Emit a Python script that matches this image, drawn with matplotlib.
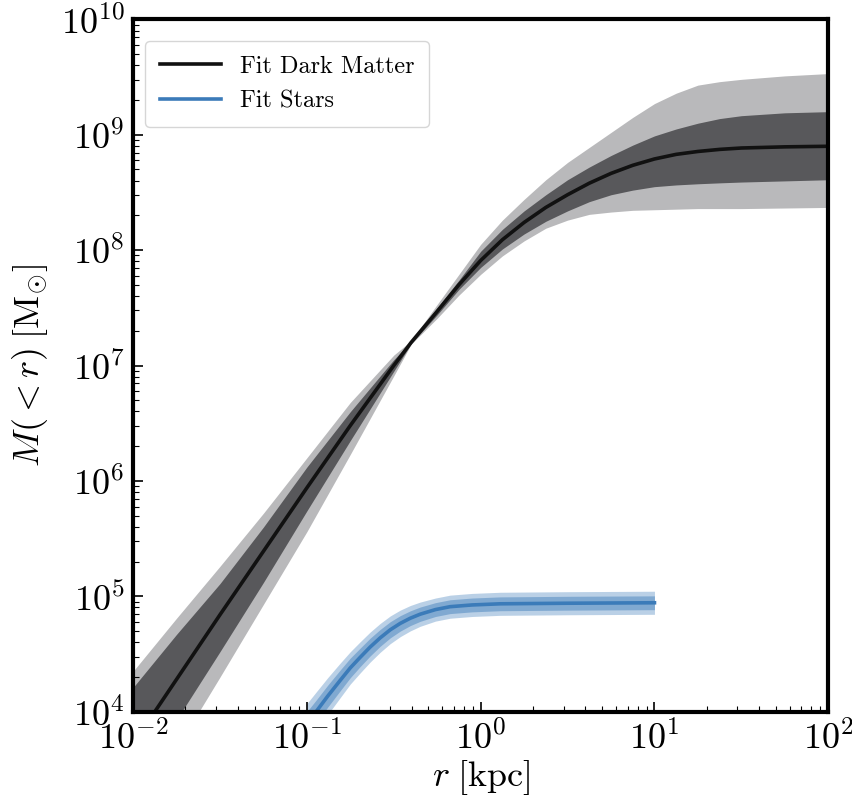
import matplotlib
matplotlib.use("Agg")
import matplotlib.pyplot as plt
import numpy as np

plt.rcParams['font.family'] = ['cmr10', 'DejaVu Serif']
plt.rcParams['mathtext.fontset'] = 'cm'
plt.rcParams['axes.formatter.use_mathtext'] = True

# dark matter enclosed mass (log10 values)
dm_logr = np.array([-2.0, -1.75, -1.5, -1.25, -1.0, -0.75, -0.5, -0.4, -0.25,
                    -0.125, 0.0, 0.125, 0.25, 0.375, 0.5, 0.625, 0.75, 0.875,
                    1.0, 1.125, 1.25, 1.375, 1.5, 1.75, 2.0])
dm_med = np.array([3.72, 4.28, 4.84, 5.39, 5.94, 6.48, 7.00, 7.20, 7.47,
                   7.70, 7.91, 8.09, 8.24, 8.37, 8.48, 8.58, 8.665, 8.735,
                   8.79, 8.83, 8.855, 8.873, 8.885, 8.895, 8.90])
dm_up2 = np.array([4.35, 4.81, 5.26, 5.72, 6.20, 6.68, 7.09, 7.215, 7.53,
                   7.79, 8.05, 8.26, 8.44, 8.61, 8.76, 8.89, 9.02, 9.15,
                   9.27, 9.36, 9.43, 9.46, 9.48, 9.51, 9.53])
dm_up1 = np.array([4.21, 4.67, 5.11, 5.60, 6.12, 6.60, 7.05, 7.21, 7.50,
                   7.74, 7.99, 8.18, 8.34, 8.48, 8.61, 8.72, 8.82, 8.91,
                   8.99, 9.05, 9.10, 9.14, 9.165, 9.19, 9.20])
dm_lo1 = np.array([3.34, 3.93, 4.52, 5.12, 5.74, 6.35, 6.95, 7.19, 7.44,
                   7.66, 7.85, 8.01, 8.14, 8.25, 8.34, 8.42, 8.48, 8.52,
                   8.55, 8.565, 8.575, 8.583, 8.59, 8.60, 8.61])
dm_lo2 = np.array([3.06, 3.68, 4.30, 4.93, 5.56, 6.23, 6.91, 7.185, 7.41,
                   7.61, 7.79, 7.95, 8.08, 8.19, 8.26, 8.31, 8.33, 8.345,
                   8.35, 8.355, 8.36, 8.36, 8.36, 8.365, 8.37])

# stellar enclosed mass (log10 values)
st_logr = np.array([-1.0, -0.947, -0.88, -0.809, -0.75, -0.694, -0.636, -0.578,
                    -0.52, -0.463, -0.405, -0.348, -0.26, -0.176, -0.05, 0.112,
                    0.5, 1.0])
st_med = np.array([3.90, 4.0, 4.135, 4.27, 4.38, 4.47, 4.56, 4.64,
                   4.71, 4.765, 4.81, 4.845, 4.885, 4.91, 4.925, 4.935,
                   4.94, 4.944])
st_err1 = np.array([0.10, 0.10, 0.095, 0.09, 0.085, 0.08, 0.077, 0.073,
                    0.07, 0.067, 0.064, 0.062, 0.06, 0.06, 0.06, 0.06,
                    0.06, 0.06])
st_err2 = np.array([0.17, 0.17, 0.16, 0.15, 0.14, 0.135, 0.13, 0.125,
                    0.12, 0.115, 0.11, 0.105, 0.10, 0.10, 0.10, 0.10,
                    0.10, 0.10])

fig = plt.figure(figsize=(8.53, 8.06), dpi=100)
ax = fig.add_axes([0.156, 0.117, 0.815, 0.859])

r = 10**dm_logr
ax.fill_between(r, 10**dm_lo2, 10**dm_up2, color='#b9b9bb', lw=0)
ax.fill_between(r, 10**dm_lo1, 10**dm_up1, color='#58585b', lw=0)
ax.plot(r, 10**dm_med, color='#111111', lw=2.6, label='Fit Dark Matter')

rs = 10**st_logr
blue = '#3b7bb9'
ax.fill_between(rs, 10**(st_med - st_err2), 10**(st_med + st_err2), color=blue, alpha=0.35, lw=0)
ax.fill_between(rs, 10**(st_med - st_err1), 10**(st_med + st_err1), color=blue, alpha=0.45, lw=0)
ax.plot(rs, 10**st_med, color=blue, lw=2.6, label='Fit Stars')

ax.set_xscale('log')
ax.set_yscale('log')
ax.set_xlim(1e-2, 1e2)
ax.set_ylim(1e4, 1e10)

for s in ax.spines.values():
    s.set_linewidth(3)
ax.tick_params(which='both', direction='in', labelsize=26, pad=6)
ax.tick_params(which='major', length=7, width=1.2)
ax.tick_params(which='minor', length=4, width=0.8)

ax.set_xlabel(r'$r\;[\mathrm{kpc}]$', fontsize=26, labelpad=2)
ax.set_ylabel(r'$M(<r)\;[\mathrm{M}_{\odot}]$', fontsize=26, labelpad=8)

leg = ax.legend(loc='upper left', bbox_to_anchor=(0.0, 0.986), fontsize=17.5,
                frameon=True, fancybox=True, handlelength=2.5, borderpad=0.6,
                labelspacing=0.5)
leg.get_frame().set_edgecolor('#cccccc')
leg.get_frame().set_linewidth(1.0)

fig.savefig('out.png', dpi=100)
